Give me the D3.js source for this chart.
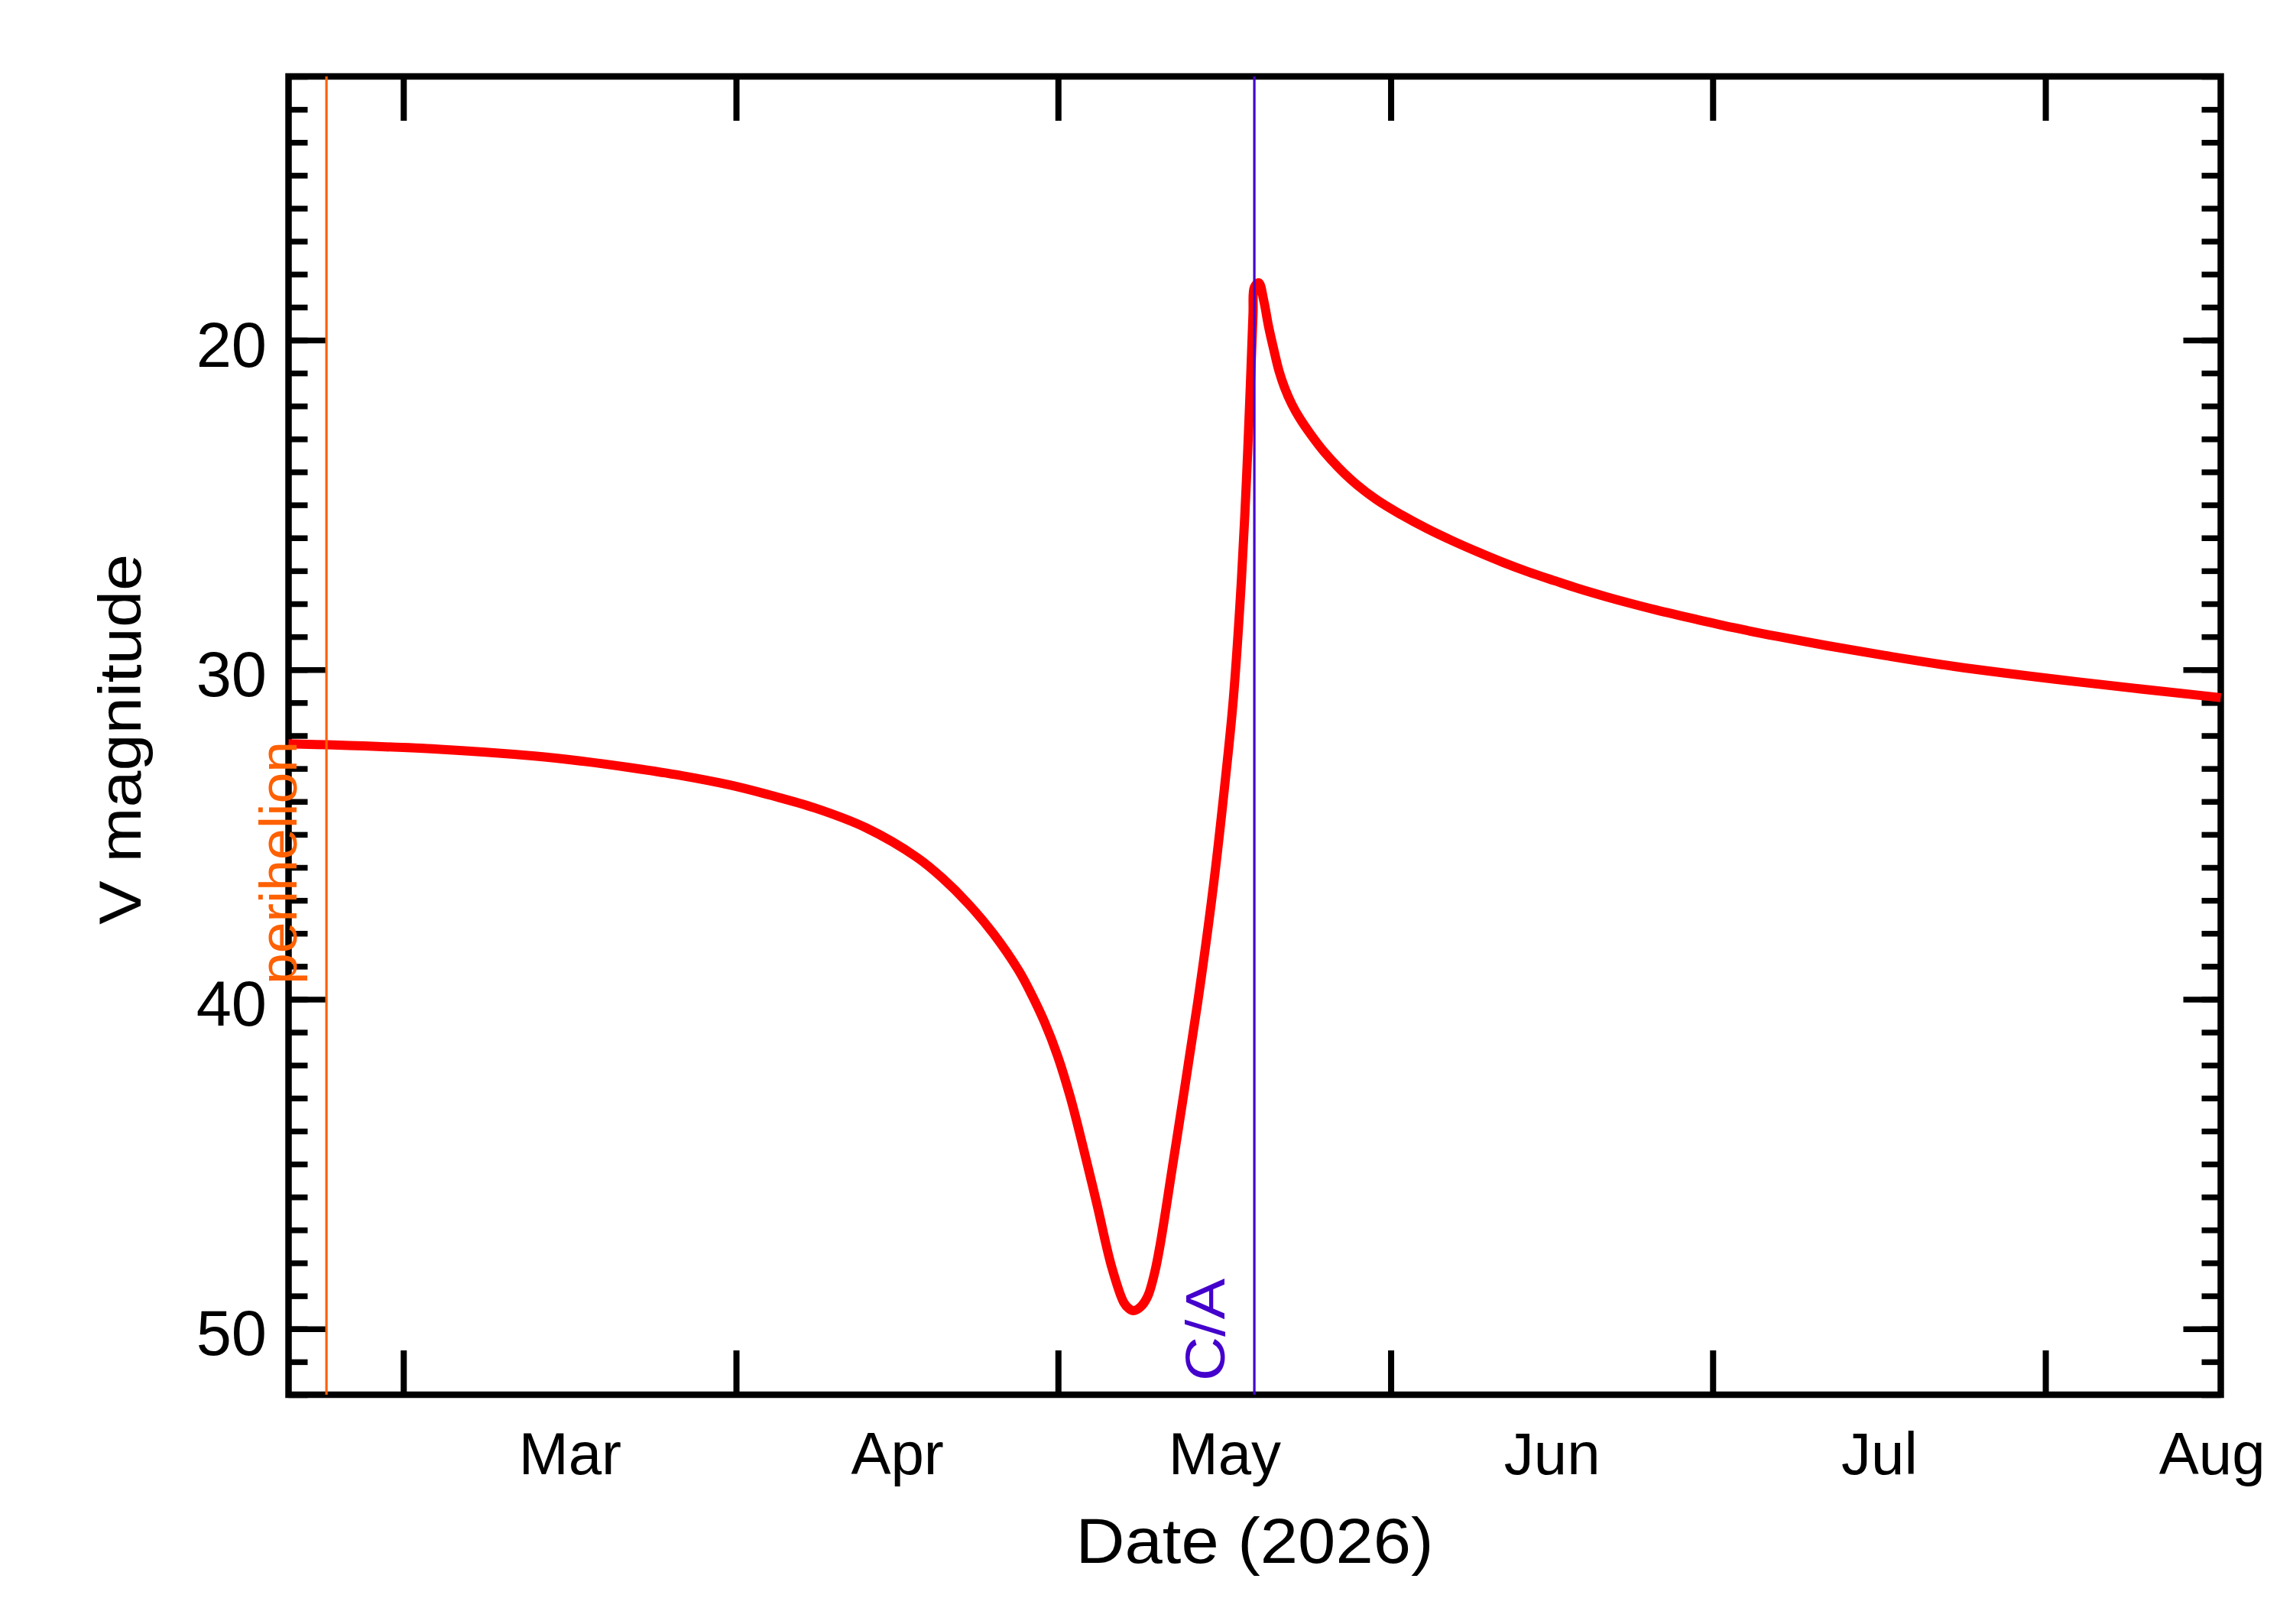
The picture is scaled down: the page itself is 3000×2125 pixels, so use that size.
<!DOCTYPE html>
<html>
<head>
<meta charset="utf-8">
<script src="https://cdn.jsdelivr.net/npm/d3@7/dist/d3.min.js"></script>
<style>
  html, body { margin: 0; padding: 0; background: #ffffff; }
  svg { display: block; }
</style>
</head>
<body>
<svg id="chart" width="3000" height="2125"></svg>
<script>
// ---------------- data ----------------
const dates = [
  "2026-02-18T07:12Z","2026-02-21T22:00Z","2026-03-04T04:00Z","2026-03-13T05:00Z",
  "2026-03-17T12:00Z","2026-03-22T07:00Z","2026-03-27T00:00Z","2026-03-31T10:00Z",
  "2026-04-03T15:00Z","2026-04-08T09:00Z","2026-04-13T03:00Z","2026-04-17T21:00Z",
  "2026-04-20T06:00Z","2026-04-22T15:00Z","2026-04-25T00:00Z","2026-04-27T09:00Z",
  "2026-04-28T13:00Z","2026-04-29T18:00Z","2026-04-30T23:00Z","2026-05-02T03:00Z",
  "2026-05-03T06:00Z","2026-05-04T15:00Z","2026-05-05T23:30Z","2026-05-07T03:00Z",
  "2026-05-07T14:00Z","2026-05-08T00:30Z","2026-05-08T17:00Z","2026-05-09T09:00Z",
  "2026-05-10T00:00Z","2026-05-10T12:30Z","2026-05-11T16:00Z","2026-05-12T19:00Z",
  "2026-05-14T04:00Z","2026-05-15T12:00Z","2026-05-16T16:00Z","2026-05-17T08:00Z",
  "2026-05-18T02:00Z","2026-05-18T13:00Z","2026-05-18T22:00Z","2026-05-19T04:00Z",
  "2026-05-19T07:00Z","2026-05-19T17:00Z","2026-05-20T04:00Z","2026-05-20T15:00Z",
  "2026-05-21T03:00Z","2026-05-21T14:00Z","2026-05-22T02:00Z","2026-05-22T19:00Z",
  "2026-05-23T12:00Z","2026-05-24T12:00Z","2026-05-25T21:00Z","2026-05-28T06:00Z",
  "2026-05-30T15:00Z","2026-06-01T23:30Z","2026-06-04T09:00Z","2026-06-06T18:00Z",
  "2026-06-09T03:00Z","2026-06-11T12:00Z","2026-06-13T21:00Z","2026-06-16T06:00Z",
  "2026-06-18T14:00Z","2026-06-20T23:30Z","2026-06-23T08:00Z","2026-06-25T17:30Z",
  "2026-06-29T13:00Z","2026-07-03T00:00Z","2026-07-07T00:00Z","2026-07-11T15:00Z",
  "2026-07-17T00:00Z","2026-07-23T12:00Z","2026-08-04T07:00Z","2026-08-17T08:10Z"
];
const vmag = [
  32.25, 32.28, 32.41, 32.62,
  32.77, 32.98, 33.22, 33.50,
  33.76, 34.20, 34.80, 35.70,
  36.33, 37.10, 38.02, 39.15,
  39.86, 40.70, 41.72, 42.95,
  44.37, 46.22, 48.10, 49.20,
  49.38, 49.45, 49.33, 49.00,
  48.30, 47.44, 45.07, 42.71,
  39.75, 36.50, 33.10, 30.89,
  27.30, 24.35, 21.40, 19.20,
  18.40, 18.26, 18.80, 19.60,
  20.32, 20.93, 21.42, 21.95,
  22.36, 22.84, 23.42, 24.22,
  24.83, 25.30, 25.72, 26.09,
  26.43, 26.75, 27.04, 27.30,
  27.55, 27.78, 27.99, 28.19,
  28.48, 28.73, 28.99, 29.27,
  29.57, 29.90, 30.38, 30.85
];

const xDomain = ["2026-02-18T07:12Z", "2026-08-17T08:10Z"];
const yDomain = [12, 52];

const monthStarts = ["2026-03-01","2026-04-01","2026-05-01","2026-06-01","2026-07-01","2026-08-01","2026-09-01"];
const monthLabels = ["Mar","Apr","May","Jun","Jul","Aug"];
const yMajorTicks = [20, 30, 40, 50];
const yMinorTicks = d3.range(12, 53, 1);

const eventNames = ["perihelion", "C/A"];
const eventDates = ["2026-02-21T20:00Z", "2026-05-19T07:00Z"];
const eventColors = ["#ff6000", "#4400cc"];

const xTitle = "Date (2026)";
const yTitle = "V magnitude";

// ---------------- layout ----------------
const L = 377.5, R = 2905.5, T = 100, B = 1825;
const FONT = "'Liberation Sans', Arial, sans-serif";

const svg = d3.select("#chart");
svg.append("rect").attr("width", 3000).attr("height", 2125).attr("fill", "#fff");

const x = d3.scaleUtc().domain(xDomain.map(d => new Date(d))).range([L, R]);
const y = d3.scaleLinear().domain(yDomain).range([T, B]);

const series = dates.map((d, i) => ({ date: new Date(d), mag: vmag[i] }));
const startDates = monthStarts.map(d => new Date(d + "T00:00Z"));
const midDates = monthLabels.map((m, i) => new Date((+startDates[i] + +startDates[i + 1]) / 2));

function styleTicks(g, w) {
  g.select(".domain").remove();
  g.selectAll(".tick line").attr("stroke", "#000").attr("stroke-width", w);
}

// x ticks bottom / top
svg.append("g").attr("transform", `translate(0,${B})`)
  .call(d3.axisBottom(x).tickValues(startDates.slice(0, 6)).tickSizeInner(-58).tickSizeOuter(0).tickFormat(""))
  .call(g => styleTicks(g, 8));
svg.append("g").attr("transform", `translate(0,${T})`)
  .call(d3.axisTop(x).tickValues(startDates.slice(0, 6)).tickSizeInner(-58).tickSizeOuter(0).tickFormat(""))
  .call(g => styleTicks(g, 8));

// month labels (centred in month)
const lab = svg.append("g").attr("transform", `translate(0,${B})`)
  .call(d3.axisBottom(x).tickValues(midDates).tickSize(0).tickFormat((d, i) => monthLabels[i]));
lab.select(".domain").remove();
lab.selectAll(".tick text")
  .attr("y", 104).attr("dy", 0)
  .attr("font-family", FONT).attr("font-size", 78).attr("fill", "#000");

// y ticks left
svg.append("g").attr("transform", `translate(${L},0)`)
  .call(d3.axisLeft(y).tickValues(yMinorTicks).tickSizeInner(-25).tickSizeOuter(0).tickFormat(""))
  .call(g => styleTicks(g, 7.5));
const yl = svg.append("g").attr("transform", `translate(${L},0)`)
  .call(d3.axisLeft(y).tickValues(yMajorTicks).tickSizeInner(-49).tickSizeOuter(0).tickFormat(d3.format("d")))
  .call(g => styleTicks(g, 7.5));
yl.selectAll(".tick text")
  .attr("x", -28.5).attr("dy", 0).attr("y", 34)
  .attr("text-anchor", "end")
  .attr("font-family", FONT).attr("font-size", 83).attr("fill", "#000");

// y ticks right
svg.append("g").attr("transform", `translate(${R},0)`)
  .call(d3.axisRight(y).tickValues(yMinorTicks).tickSizeInner(-25).tickSizeOuter(0).tickFormat(""))
  .call(g => styleTicks(g, 7.5));
svg.append("g").attr("transform", `translate(${R},0)`)
  .call(d3.axisRight(y).tickValues(yMajorTicks).tickSizeInner(-49).tickSizeOuter(0).tickFormat(""))
  .call(g => styleTicks(g, 7.5));

// frame
svg.append("rect")
  .attr("x", L).attr("y", T).attr("width", R - L).attr("height", B - T)
  .attr("fill", "none").attr("stroke", "#000").attr("stroke-width", 8.5);

// curve
const line = d3.line().x(d => x(d.date)).y(d => y(d.mag)).curve(d3.curveCatmullRom.alpha(0.5));
svg.append("path").datum(series)
  .attr("d", line)
  .attr("fill", "none").attr("stroke", "#ff0000")
  .attr("stroke-width", 12).attr("stroke-linejoin", "round");

// event lines and labels
const evSizes = [68, 72];
const evLengths = [318, 134];
const evStarts = [1288, 1807];
eventNames.forEach((name, i) => {
  const ex = x(new Date(eventDates[i]));
  svg.append("line")
    .attr("x1", ex).attr("x2", ex).attr("y1", T).attr("y2", B)
    .attr("stroke", eventColors[i]).attr("stroke-width", 3.2);
  svg.append("text")
    .attr("transform", `translate(${ex - 39},${evStarts[i]}) rotate(-90)`)
    .attr("text-anchor", "start")
    .attr("font-family", FONT).attr("font-size", evSizes[i])
    .attr("textLength", evLengths[i]).attr("lengthAdjust", "spacingAndGlyphs")
    .attr("fill", eventColors[i])
    .text(name);
});

// axis titles
svg.append("text")
  .attr("x", (L + R) / 2).attr("y", 2045)
  .attr("text-anchor", "middle")
  .attr("font-family", FONT).attr("font-size", 84)
  .attr("textLength", 468).attr("lengthAdjust", "spacingAndGlyphs")
  .attr("fill", "#000")
  .text(xTitle);
svg.append("text")
  .attr("transform", `translate(184,967.5) rotate(-90)`)
  .attr("text-anchor", "middle")
  .attr("font-family", FONT).attr("font-size", 77)
  .attr("textLength", 485).attr("lengthAdjust", "spacingAndGlyphs")
  .attr("fill", "#000")
  .text(yTitle);
</script>
</body>
</html>
